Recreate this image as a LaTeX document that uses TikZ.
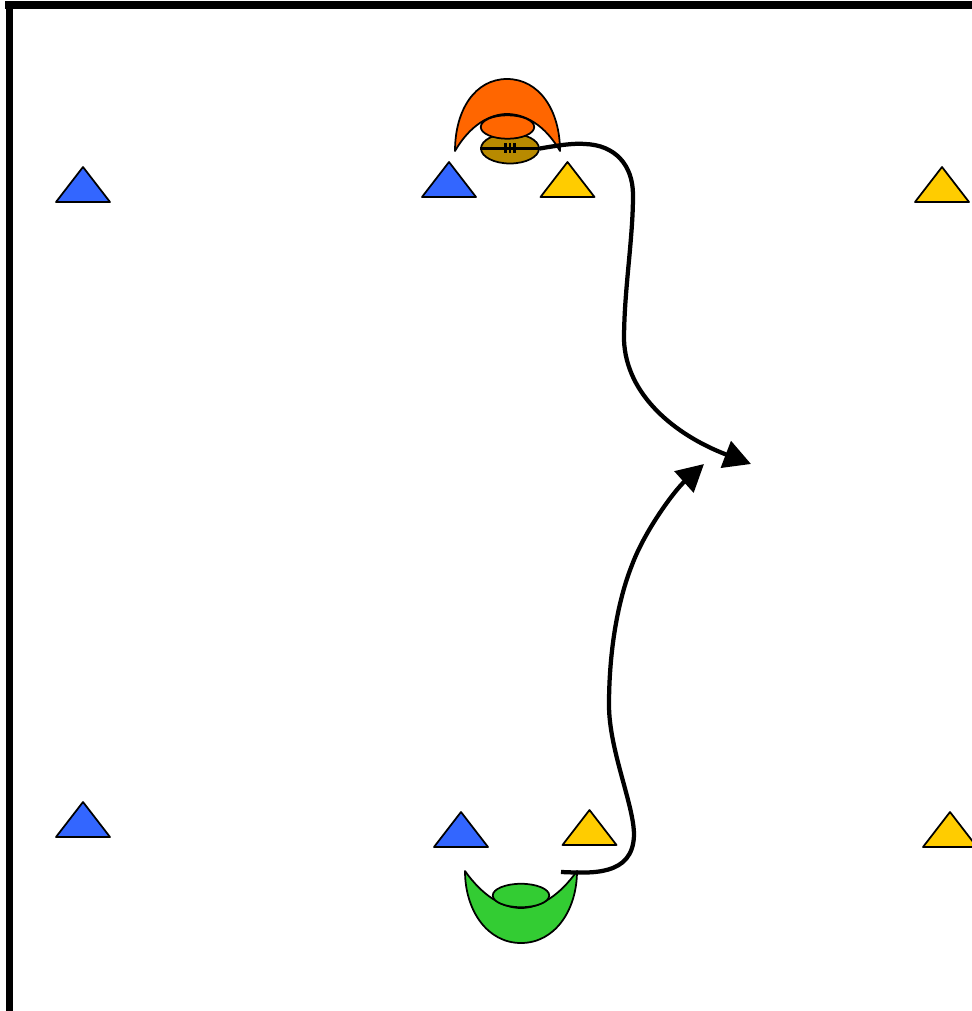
\documentclass[tikz,border=0pt]{standalone}
\usepackage{xcolor}
\usetikzlibrary{arrows.meta,shapes.geometric}
\definecolor{coneblue}{HTML}{3366FF}
\definecolor{coneyellow}{HTML}{FFCC00}
\definecolor{attacker}{HTML}{FF6600}
\definecolor{defender}{HTML}{33CC33}
\definecolor{leather}{HTML}{B88A00}
\tikzset{
  wall/.style={draw=black, line width=0.16cm},
  outline/.style={draw=black, line width=0.035cm, line join=round},
  stitch/.style={draw=black, line width=0.05cm},
  cone/.style={outline},
  head/.style={outline, ellipse, inner sep=0pt, minimum width=1.07cm, minimum height=0.47cm},
  ballshape/.style={outline, ellipse, inner sep=0pt, fill=leather, minimum width=1.16cm, minimum height=0.6cm},
  run/.style={draw=black, line width=0.085cm, -{Triangle[length=0.54cm,width=0.56cm]}},
}

\begin{document}
\begin{tikzpicture}[x=0.02cm,y=-0.02cm]
  \useasboundingbox (0,0) rectangle (972,1011);

  % pitch edges
  \draw[wall] (5,4.5) -- (972,4.5);
  \draw[wall] (9.5,1) -- (9.5,1011);

  % cones
  \foreach \x/\y/\c in {83/167/coneblue, 449/162/coneblue, 567.5/162/coneyellow, 942/167/coneyellow,
      83/802/coneblue, 461/812/coneblue, 589.5/810/coneyellow, 950/812/coneyellow}
    \draw[cone,fill=\c] (\x,\y) -- ++(27,35) -- ++(-54,0) -- cycle;

  % ball and top player
  \node[ballshape] (ball) at (510,148.5) {};
  \draw[stitch] (ball.west) -- (ball.east);
  \foreach \x in {505.5,510,514.5}
    \draw[stitch] (\x,143) -- (\x,153);
  \draw[outline,fill=attacker] (455,151) .. controls (455,110) and (475,79) .. (507,79)
    .. controls (539,79) and (560,110) .. (560,151)
    .. controls (545,125) and (525,114) .. (507,114)
    .. controls (490,114) and (470,125) .. (455,151) -- cycle;
  \node[head,fill=attacker] (tophead) at (507.5,127) {};

  % bottom player
  \draw[outline,fill=defender] (465,871) .. controls (465,910) and (487,943) .. (521,943)
    .. controls (555,943) and (577,910) .. (577,871)
    .. controls (560,895) and (540,908) .. (521,908)
    .. controls (502,908) and (482,895) .. (465,871) -- cycle;
  \node[head,fill=defender,minimum width=1.13cm] (bottomhead) at (521,895.5) {};

  % runs
  \coordinate (startrun) at (561,872);
  \coordinate (topend) at (751,464);
  \coordinate (bottomend) at (704,464);
  \draw[run] (ball.east) .. controls (560,145) and (575,143) .. (585,144)
    .. controls (615,145) and (633,165) .. (633,195)
    .. controls (633,240) and (624,290) .. (624,340)
    .. controls (626,395) and (675,435) .. (topend);
  \draw[run] (startrun) .. controls (590,873) and (633,877) .. (634,835)
    .. controls (634,805) and (609,750) .. (609,705)
    .. controls (609,650) and (618,600) .. (632,565)
    .. controls (645,530) and (675,490) .. (bottomend);
\end{tikzpicture}
\end{document}
